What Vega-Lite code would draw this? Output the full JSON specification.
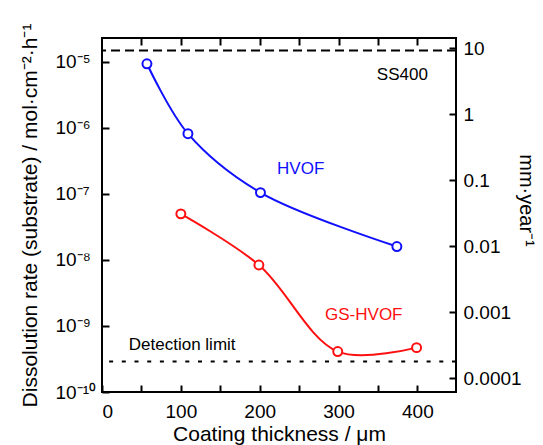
{
  "$schema": "https://vega.github.io/schema/vega-lite/v6.json",
  "width": 354,
  "height": 354,
  "autosize": "none",
  "padding": {"left": 102, "top": 38, "right": 87, "bottom": 53},
  "background": "white",
  "config": {
    "font": "Liberation Sans",
    "view": {"stroke": "black", "strokeWidth": 2},
    "axis": {
      "domain": false, "grid": false, "tickColor": "black", "tickWidth": 2, "tickSize": -7,
      "labelColor": "black", "titleColor": "black", "labelFont": "Liberation Sans", "titleFont": "Liberation Sans",
      "labelFontSize": 19, "titleFontSize": 21, "titleFontWeight": "normal"
    }
  },
  "datasets": {
    "curves": [
      {"thickness": 57, "rate": 9.4e-6, "coating": "HVOF"},
      {"thickness": 109, "rate": 8.2e-7, "coating": "HVOF"},
      {"thickness": 201, "rate": 1.05e-7, "coating": "HVOF"},
      {"thickness": 374, "rate": 1.6e-8, "coating": "HVOF"},
      {"thickness": 100, "rate": 5.0e-8, "coating": "GS-HVOF"},
      {"thickness": 199, "rate": 8.4e-9, "coating": "GS-HVOF"},
      {"thickness": 299, "rate": 4.1e-10, "coating": "GS-HVOF"},
      {"thickness": 399, "rate": 4.7e-10, "coating": "GS-HVOF"}
    ]
  },
  "layer": [
    {
      "layer": [
        {
          "data": {"name": "curves"},
          "mark": {"type": "line", "interpolate": "catmull-rom", "strokeWidth": 2},
          "encoding": {
            "x": {"field": "thickness", "type": "quantitative", "scale": {"domain": [0, 449], "nice": false, "zero": false},
                  "axis": {"title": "Coating thickness / μm", "values": [0, 50, 100, 150, 200, 250, 300, 350, 400],
                           "labelExpr": "datum.value % 100 == 0 ? datum.label : ''", "labelPadding": 17,
                           "titleY": 48, "titleBaseline": "alphabetic"}},
            "y": {"field": "rate", "type": "quantitative", "scale": {"type": "log", "domain": [1e-10, 2.31e-5], "nice": false},
                  "axis": {"title": "Dissolution rate (substrate) / mol·cm⁻²·h⁻¹", "values": [1e-10, 1e-9, 1e-8, 1e-7, 1e-6, 1e-5],
                           "labelExpr": "datum.value < 5e-10 ? '10⁻¹⁰' : datum.value < 5e-9 ? '10⁻⁹' : datum.value < 5e-8 ? '10⁻⁸' : datum.value < 5e-7 ? '10⁻⁷' : datum.value < 5e-6 ? '10⁻⁶' : '10⁻⁵'",
                           "labelAlign": "left", "labelPadding": 54, "titlePadding": 15}},
            "color": {"field": "coating", "type": "nominal", "scale": {"domain": ["HVOF", "GS-HVOF"], "range": ["#1010ff", "#ff1010"]}, "legend": null}
          }
        },
        {
          "data": {"name": "curves"},
          "mark": {"type": "point", "shape": "circle", "fill": "white", "filled": false, "strokeWidth": 2, "size": 80, "opacity": 1},
          "encoding": {
            "x": {"field": "thickness", "type": "quantitative"},
            "y": {"field": "rate", "type": "quantitative"},
            "stroke": {"field": "coating", "type": "nominal", "scale": {"domain": ["HVOF", "GS-HVOF"], "range": ["#1010ff", "#ff1010"]}, "legend": null}
          }
        },
        {
          "data": {"values": [{}]},
          "mark": {"type": "rule", "strokeDash": [9, 5], "strokeWidth": 2, "color": "black"},
          "encoding": {"y": {"datum": 1.5e-5}}
        },
        {
          "data": {"values": [{}]},
          "mark": {"type": "rule", "strokeDash": [4, 8.7], "strokeWidth": 2, "color": "black"},
          "encoding": {"y": {"datum": 2.9e-10}}
        },
        {
          "data": {"values": [{}]},
          "mark": {"type": "text", "text": "SS400", "fontSize": 17, "color": "black", "align": "center", "baseline": "middle"},
          "encoding": {"x": {"datum": 381}, "y": {"datum": 6.3e-6}}
        },
        {
          "data": {"values": [{}]},
          "mark": {"type": "text", "text": "HVOF", "fontSize": 17, "color": "#1010ff", "align": "center", "baseline": "middle"},
          "encoding": {"x": {"datum": 252}, "y": {"datum": 2.4e-7}}
        },
        {
          "data": {"values": [{}]},
          "mark": {"type": "text", "text": "GS-HVOF", "fontSize": 17, "color": "#ff1010", "align": "center", "baseline": "middle"},
          "encoding": {"x": {"datum": 332}, "y": {"datum": 1.47e-9}}
        },
        {
          "data": {"values": [{}]},
          "mark": {"type": "text", "text": "Detection limit", "fontSize": 17, "color": "black", "align": "left", "baseline": "middle"},
          "encoding": {"x": {"datum": 34}, "y": {"datum": 5.1e-10}}
        }
      ]
    },
    {
      "data": {"name": "curves"},
      "mark": {"type": "point", "opacity": 0},
      "encoding": {
        "x": {"field": "thickness", "type": "quantitative",
              "axis": {"orient": "top", "labels": false, "title": null, "values": [50, 100, 150, 200, 250, 300, 350, 400]}},
        "y": {"field": "rate", "type": "quantitative", "scale": {"type": "log", "domain": [6.17e-5, 14.26], "nice": false},
              "axis": {"orient": "right", "title": "mm·year⁻¹", "values": [0.0001, 0.001, 0.01, 0.1, 1, 10], "format": "~g",
                       "labelPadding": 14, "titleX": 69, "titleY": 162, "titleAngle": 90, "titleAlign": "center", "titleBaseline": "middle", "titleFontSize": 20}}
      }
    }
  ],
  "resolve": {"scale": {"y": "independent"}, "axis": {"x": "independent"}}
}
